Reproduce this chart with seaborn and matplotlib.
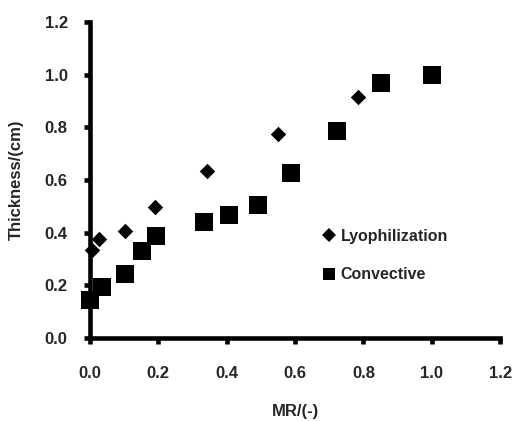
import matplotlib
matplotlib.use("Agg")
import matplotlib.pyplot as plt
from matplotlib.lines import Line2D
import seaborn as sns
import pandas as pd

lyo_mr = [0.005, 0.027, 0.102, 0.19, 0.341, 0.551, 0.785, 1.0]
lyo_th = [0.334, 0.375, 0.407, 0.496, 0.635, 0.775, 0.916, 1.0]
conv_mr = [0.0, 0.034, 0.104, 0.151, 0.193, 0.334, 0.408, 0.493, 0.588, 0.722, 0.851, 1.0]
conv_th = [0.144, 0.192, 0.243, 0.332, 0.389, 0.442, 0.467, 0.505, 0.625, 0.786, 0.967, 1.0]
ticks = [0.0, 0.2, 0.4, 0.6, 0.8, 1.0, 1.2]

sns.set_style("ticks")
plt.rcParams['font.family'] = ['Liberation Sans', 'DejaVu Sans']
plt.rcParams['font.weight'] = 'bold'
plt.rcParams['axes.linewidth'] = 3.3

df_l = pd.DataFrame({"MR": lyo_mr, "T": lyo_th})
df_c = pd.DataFrame({"MR": conv_mr, "T": conv_th})

fig = plt.figure(figsize=(5.14, 4.21), dpi=100)
ax = fig.add_axes([0.175, 0.197, 0.798, 0.751])
sns.scatterplot(data=df_c, x="MR", y="T", marker="s", s=150, color="black",
                edgecolor="black", linewidth=0, ax=ax, zorder=3, legend=False)
sns.scatterplot(data=df_l, x="MR", y="T", marker="D", s=62, color="black",
                edgecolor="black", linewidth=0, ax=ax, zorder=4, legend=False)

ax.set_xlim(0, 1.2)
ax.set_ylim(0, 1.2)
ax.set_xticks(ticks)
ax.set_yticks(ticks)
ax.set_xticklabels([f"{t:.1f}" for t in ticks])
ax.set_yticklabels([f"{t:.1f}" for t in ticks])
for lab in ax.get_xticklabels() + ax.get_yticklabels():
    lab.set_fontsize(12)
    lab.set_fontweight('bold')
ax.tick_params(axis='both', direction='out', length=4, width=3.3, color='black')
ax.tick_params(axis='x', pad=16)
ax.tick_params(axis='y', pad=12)
ax.spines['top'].set_visible(False)
ax.spines['right'].set_visible(False)
for side in ['left', 'bottom']:
    ax.spines[side].set_linewidth(3.3)
    ax.spines[side].set_color('black')
    ax.spines[side].set_clip_on(False)
ax.set_xlabel("MR/(-)", fontsize=12, fontweight='bold', labelpad=17)
ax.set_ylabel("Thickness/(cm)", fontsize=12, fontweight='bold', labelpad=15)
for c in ax.collections:
    c.set_clip_on(False)

handles = [Line2D([], [], ls='none', marker='D', markersize=7.5, color='black', mew=0),
           Line2D([], [], ls='none', marker='s', markersize=9, color='black', mew=0)]
leg = ax.legend(handles, ["Lyophilization", "Convective"], frameon=False, loc='upper left',
                bbox_to_anchor=(0.547, 0.365), prop={'size': 11.5, 'weight': 'bold'},
                handletextpad=0.25, labelspacing=1.45, borderaxespad=0, handlelength=1.0)
fig.savefig("out.png", dpi=100)
